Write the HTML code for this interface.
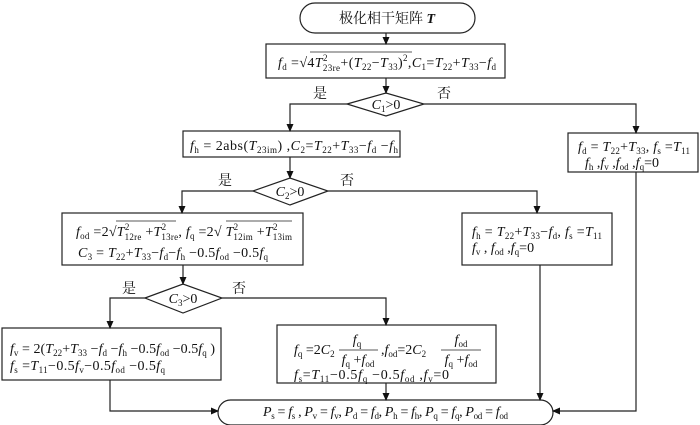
<!DOCTYPE html>
<html><head><meta charset="utf-8"><style>
body{margin:0;background:#fff}
svg{display:block}
text{font-family:"Liberation Serif","Noto Serif CJK SC",serif;font-size:14px;fill:#111}
.i{font-style:italic}
.s{font-size:9px}
</style></head><body>
<svg width="700" height="425" viewBox="0 0 700 425" xmlns="http://www.w3.org/2000/svg">
<defs><marker id="a" markerWidth="8" markerHeight="8" refX="7" refY="4" orient="auto" markerUnits="userSpaceOnUse"><path d="M0,0.5 L8,4 L0,7.5 z" fill="#111"/></marker></defs>
<g fill="none" stroke="#222" stroke-width="1.2">
<rect x="300" y="3" width="175" height="30" rx="15"/>
<rect x="266" y="44" width="239" height="34"/>
<polygon points="347,104 386,93 424,104 386,116"/>
<rect x="183" y="131" width="217" height="26"/>
<rect x="568" y="133" width="130" height="39"/>
<polygon points="253,191 290,178 328,191 290,205"/>
<rect x="62" y="213" width="241" height="52"/>
<rect x="462" y="213" width="150" height="52"/>
<polygon points="145,298 183,284 222,298 183,313"/>
<rect x="2" y="328" width="219" height="52"/>
<rect x="277" y="325" width="219" height="58"/>
<rect x="218" y="400" width="335" height="25" rx="12.5"/>
</g>
<g fill="none" stroke="#222" stroke-width="1.2" marker-end="url(#a)">
<path d="M386,33 V44"/>
<path d="M386,78 V93"/>
<path d="M347,104 H290 V131"/>
<path d="M424,104 H636 V133"/>
<path d="M290,157 V178"/>
<path d="M253,191 H182 V213"/>
<path d="M328,191 H537 V213"/>
<path d="M183,265 V284"/>
<path d="M145,298 H110 V328"/>
<path d="M222,298 H386 V325"/>
<path d="M110,380 V411 H218"/>
<path d="M386,383 V400"/>
<path d="M540,265 V400"/>
<path d="M636,172 V411 H553"/>
</g>
<text x="387" y="23" text-anchor="middle" style="font-size:14px">极化相干矩阵 <tspan class="i" font-weight="bold">T</tspan></text>
<text x="278" y="67" textLength="218"><tspan class="i">f</tspan><tspan class="s" dy="3">d</tspan><tspan dy="-3"> =√4</tspan><tspan class="i">T</tspan><tspan class="s" dy="-6">2</tspan><tspan class="s" dx="-5" dy="10">23re</tspan><tspan dy="-4">+(</tspan><tspan class="i">T</tspan><tspan class="s" dy="3">22</tspan><tspan dy="-3">−</tspan><tspan class="i">T</tspan><tspan class="s" dy="3">33</tspan><tspan dy="-3">)</tspan><tspan class="s" dy="-6">2</tspan><tspan dy="6">,</tspan><tspan class="i">C</tspan><tspan class="s" dy="3">1</tspan><tspan dy="-3">=</tspan><tspan class="i">T</tspan><tspan class="s" dy="3">22</tspan><tspan dy="-3">+</tspan><tspan class="i">T</tspan><tspan class="s" dy="3">33</tspan><tspan dy="-3">−</tspan><tspan class="i">f</tspan><tspan class="s" dy="3">d</tspan></text>
<line x1="310" y1="52" x2="412" y2="52" stroke="#222" stroke-width="0.8"/>
<text x="313" y="98">是</text><text x="437" y="98">否</text>
<text x="386" y="109" text-anchor="middle"><tspan class="i">C</tspan><tspan class="s" dy="3">1</tspan><tspan dy="-3">&gt;0</tspan></text>
<text x="190" y="150" textLength="208"><tspan class="i">f</tspan><tspan class="s" dy="3">h</tspan><tspan dy="-3"> = 2abs(</tspan><tspan class="i">T</tspan><tspan class="s" dy="3">23im</tspan><tspan dy="-3">) ,</tspan><tspan class="i">C</tspan><tspan class="s" dy="3">2</tspan><tspan dy="-3">=</tspan><tspan class="i">T</tspan><tspan class="s" dy="3">22</tspan><tspan dy="-3">+</tspan><tspan class="i">T</tspan><tspan class="s" dy="3">33</tspan><tspan dy="-3">−</tspan><tspan class="i">f</tspan><tspan class="s" dy="3">d</tspan><tspan dy="-3"> −</tspan><tspan class="i">f</tspan><tspan class="s" dy="3">h</tspan></text>
<text x="578" y="151" textLength="112"><tspan class="i">f</tspan><tspan class="s" dy="3">d</tspan><tspan dy="-3"> = </tspan><tspan class="i">T</tspan><tspan class="s" dy="3">22</tspan><tspan dy="-3">+</tspan><tspan class="i">T</tspan><tspan class="s" dy="3">33</tspan><tspan dy="-3">, </tspan><tspan class="i">f</tspan><tspan class="s" dy="3">s</tspan><tspan dy="-3"> =</tspan><tspan class="i">T</tspan><tspan class="s" dy="3">11</tspan></text>
<text x="585" y="167"><tspan class="i">f</tspan><tspan class="s" dy="3">h</tspan><tspan dy="-3"> ,</tspan><tspan class="i">f</tspan><tspan class="s" dy="3">v</tspan><tspan dy="-3"> ,</tspan><tspan class="i">f</tspan><tspan class="s" dy="3">od</tspan><tspan dy="-3"> ,</tspan><tspan class="i">f</tspan><tspan class="s" dy="3">q</tspan><tspan dy="-3">=0</tspan></text>
<text x="218" y="185">是</text><text x="340" y="185">否</text>
<text x="290" y="196" text-anchor="middle"><tspan class="i">C</tspan><tspan class="s" dy="3">2</tspan><tspan dy="-3">&gt;0</tspan></text>
<text x="76" y="236" textLength="216"><tspan class="i">f</tspan><tspan class="s" dy="3">od</tspan><tspan dy="-3"> =2√</tspan><tspan class="i">T</tspan><tspan class="s" dy="-6">2</tspan><tspan class="s" dx="-5" dy="10">12re</tspan><tspan dy="-4"> +</tspan><tspan class="i">T</tspan><tspan class="s" dy="-6">2</tspan><tspan class="s" dx="-5" dy="10">13re</tspan><tspan dy="-4">, </tspan><tspan class="i">f</tspan><tspan class="s" dy="3">q</tspan><tspan dy="-3"> =2√ </tspan><tspan class="i">T</tspan><tspan class="s" dy="-6">2</tspan><tspan class="s" dx="-5" dy="10">12im</tspan><tspan dy="-4"> +</tspan><tspan class="i">T</tspan><tspan class="s" dy="-6">2</tspan><tspan class="s" dx="-5" dy="10">13im</tspan></text>
<line x1="116" y1="221" x2="176" y2="221" stroke="#222" stroke-width="0.8"/>
<line x1="226" y1="221" x2="292" y2="221" stroke="#222" stroke-width="0.8"/>
<text x="78" y="257" textLength="190"><tspan class="i">C</tspan><tspan class="s" dy="3">3</tspan><tspan dy="-3"> = </tspan><tspan class="i">T</tspan><tspan class="s" dy="3">22</tspan><tspan dy="-3">+</tspan><tspan class="i">T</tspan><tspan class="s" dy="3">33</tspan><tspan dy="-3">−</tspan><tspan class="i">f</tspan><tspan class="s" dy="3">d</tspan><tspan dy="-3">−</tspan><tspan class="i">f</tspan><tspan class="s" dy="3">h</tspan><tspan dy="-3"> −0.5</tspan><tspan class="i">f</tspan><tspan class="s" dy="3">od</tspan><tspan dy="-3"> −0.5</tspan><tspan class="i">f</tspan><tspan class="s" dy="3">q</tspan></text>
<text x="472" y="236" textLength="130"><tspan class="i">f</tspan><tspan class="s" dy="3">h</tspan><tspan dy="-3"> = </tspan><tspan class="i">T</tspan><tspan class="s" dy="3">22</tspan><tspan dy="-3">+</tspan><tspan class="i">T</tspan><tspan class="s" dy="3">33</tspan><tspan dy="-3">−</tspan><tspan class="i">f</tspan><tspan class="s" dy="3">d</tspan><tspan dy="-3">, </tspan><tspan class="i">f</tspan><tspan class="s" dy="3">s</tspan><tspan dy="-3"> =</tspan><tspan class="i">T</tspan><tspan class="s" dy="3">11</tspan></text>
<text x="472" y="252"><tspan class="i">f</tspan><tspan class="s" dy="3">v</tspan><tspan dy="-3"> , </tspan><tspan class="i">f</tspan><tspan class="s" dy="3">od</tspan><tspan dy="-3"> ,</tspan><tspan class="i">f</tspan><tspan class="s" dy="3">q</tspan><tspan dy="-3">=0</tspan></text>
<text x="122" y="293">是</text><text x="232" y="293">否</text>
<text x="183" y="303" text-anchor="middle"><tspan class="i">C</tspan><tspan class="s" dy="3">3</tspan><tspan dy="-3">&gt;0</tspan></text>
<text x="10" y="353" textLength="205"><tspan class="i">f</tspan><tspan class="s" dy="3">v</tspan><tspan dy="-3"> = 2(</tspan><tspan class="i">T</tspan><tspan class="s" dy="3">22</tspan><tspan dy="-3">+</tspan><tspan class="i">T</tspan><tspan class="s" dy="3">33</tspan><tspan dy="-3"> −</tspan><tspan class="i">f</tspan><tspan class="s" dy="3">d</tspan><tspan dy="-3"> −</tspan><tspan class="i">f</tspan><tspan class="s" dy="3">h</tspan><tspan dy="-3"> −0.5</tspan><tspan class="i">f</tspan><tspan class="s" dy="3">od</tspan><tspan dy="-3"> −0.5</tspan><tspan class="i">f</tspan><tspan class="s" dy="3">q</tspan><tspan dy="-3"> )</tspan></text>
<text x="10" y="370" textLength="155"><tspan class="i">f</tspan><tspan class="s" dy="3">s</tspan><tspan dy="-3"> =</tspan><tspan class="i">T</tspan><tspan class="s" dy="3">11</tspan><tspan dy="-3">−0.5</tspan><tspan class="i">f</tspan><tspan class="s" dy="3">v</tspan><tspan dy="-3">−0.5</tspan><tspan class="i">f</tspan><tspan class="s" dy="3">od</tspan><tspan dy="-3"> −0.5</tspan><tspan class="i">f</tspan><tspan class="s" dy="3">q</tspan></text>
<text x="294" y="354"><tspan class="i">f</tspan><tspan class="s" dy="3">q</tspan><tspan dy="-3"> =2</tspan><tspan class="i">C</tspan><tspan class="s" dy="3">2</tspan></text>
<text x="357" y="344" text-anchor="middle"><tspan class="i">f</tspan><tspan class="s" dy="3">q</tspan></text>
<line x1="339" y1="350" x2="378" y2="350" stroke="#222" stroke-width="0.8"/>
<text x="358" y="364" text-anchor="middle"><tspan class="i">f</tspan><tspan class="s" dy="3">q</tspan><tspan dy="-3"> +</tspan><tspan class="i">f</tspan><tspan class="s" dy="3">od</tspan></text>
<text x="381" y="354"> ,<tspan class="i">f</tspan><tspan class="s" dy="3">od</tspan><tspan dy="-3">=2</tspan><tspan class="i">C</tspan><tspan class="s" dy="3">2</tspan></text>
<text x="461" y="344" text-anchor="middle"><tspan class="i">f</tspan><tspan class="s" dy="3">od</tspan></text>
<line x1="441" y1="350" x2="481" y2="350" stroke="#222" stroke-width="0.8"/>
<text x="461" y="364" text-anchor="middle"><tspan class="i">f</tspan><tspan class="s" dy="3">q</tspan><tspan dy="-3"> +</tspan><tspan class="i">f</tspan><tspan class="s" dy="3">od</tspan></text>
<text x="294" y="379" textLength="155"><tspan class="i">f</tspan><tspan class="s" dy="3">s</tspan><tspan dy="-3">=</tspan><tspan class="i">T</tspan><tspan class="s" dy="3">11</tspan><tspan dy="-3">−0.5</tspan><tspan class="i">f</tspan><tspan class="s" dy="3">q</tspan><tspan dy="-3"> −0.5</tspan><tspan class="i">f</tspan><tspan class="s" dy="3">od</tspan><tspan dy="-3"> ,</tspan><tspan class="i">f</tspan><tspan class="s" dy="3">v</tspan><tspan dy="-3">=0</tspan></text>
<text x="263" y="416" textLength="245"><tspan class="i">P</tspan><tspan class="s" dy="3">s</tspan><tspan dy="-3"> = </tspan><tspan class="i">f</tspan><tspan class="s" dy="3">s</tspan><tspan dy="-3"> , </tspan><tspan class="i">P</tspan><tspan class="s" dy="3">v</tspan><tspan dy="-3"> = </tspan><tspan class="i">f</tspan><tspan class="s" dy="3">v</tspan><tspan dy="-3">, </tspan><tspan class="i">P</tspan><tspan class="s" dy="3">d</tspan><tspan dy="-3"> = </tspan><tspan class="i">f</tspan><tspan class="s" dy="3">d</tspan><tspan dy="-3">, </tspan><tspan class="i">P</tspan><tspan class="s" dy="3">h</tspan><tspan dy="-3"> = </tspan><tspan class="i">f</tspan><tspan class="s" dy="3">h</tspan><tspan dy="-3">, </tspan><tspan class="i">P</tspan><tspan class="s" dy="3">q</tspan><tspan dy="-3"> = </tspan><tspan class="i">f</tspan><tspan class="s" dy="3">q</tspan><tspan dy="-3">, </tspan><tspan class="i">P</tspan><tspan class="s" dy="3">od</tspan><tspan dy="-3"> = </tspan><tspan class="i">f</tspan><tspan class="s" dy="3">od</tspan></text>
</svg>
</body></html>
